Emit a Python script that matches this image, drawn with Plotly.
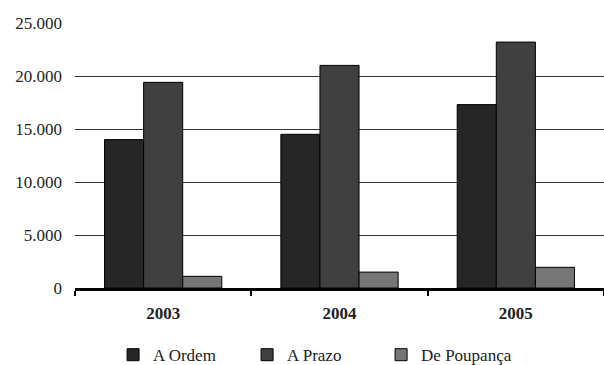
import plotly.graph_objects as go

years = ["2003", "2004", "2005"]
a_ordem = [14000, 14500, 17300]
a_prazo = [19400, 21000, 23200]
de_poupanca = [1100, 1500, 1950]

series = [
    ("A Ordem", a_ordem, "#262626"),
    ("A Prazo", a_prazo, "#404040"),
    ("De Poupança", de_poupanca, "#767676"),
]

font_family = "Liberation Serif"
text_color = "#222222"

fig = go.Figure()
for name, vals, color in series:
    fig.add_trace(go.Bar(
        x=years, y=vals, name=name,
        marker=dict(color=color, line=dict(color="#000000", width=1)),
    ))

fig.update_layout(
    width=604, height=365,
    margin=dict(l=75, r=0, t=23, b=77, autoexpand=False),
    paper_bgcolor="white", plot_bgcolor="white",
    barmode="group", bargap=0.335, bargroupgap=0,
    separators=",.",
    font=dict(family=font_family, size=17, color=text_color),
    showlegend=True,
    legend=dict(
        orientation="h", x=0.072, xanchor="left",
        yref="container", y=0.027, yanchor="middle",
        font=dict(family=font_family, size=17, color=text_color),
        itemwidth=30, entrywidth=89, traceorder="normal",
    ),
)

fig.update_xaxes(
    type="category", tickson="boundaries",
    ticks="outside", ticklen=5, tickwidth=2, tickcolor="#000000",
    showline=True, linecolor="#000000", linewidth=3,
    showgrid=False, zeroline=False,
    tickfont=dict(family=font_family, size=17, color=text_color, weight="bold"),
    ticklabelstandoff=8,
)

fig.update_yaxes(
    range=[0, 25000], tickvals=[0, 5000, 10000, 15000, 20000, 25000],
    tickformat=",d",
    showgrid=True, gridcolor="#333333", gridwidth=1,
    showline=False, zeroline=False, ticks="",
    ticklabelstandoff=12,
    tickfont=dict(family=font_family, size=17, color=text_color),
)

fig.write_html("out.html")
